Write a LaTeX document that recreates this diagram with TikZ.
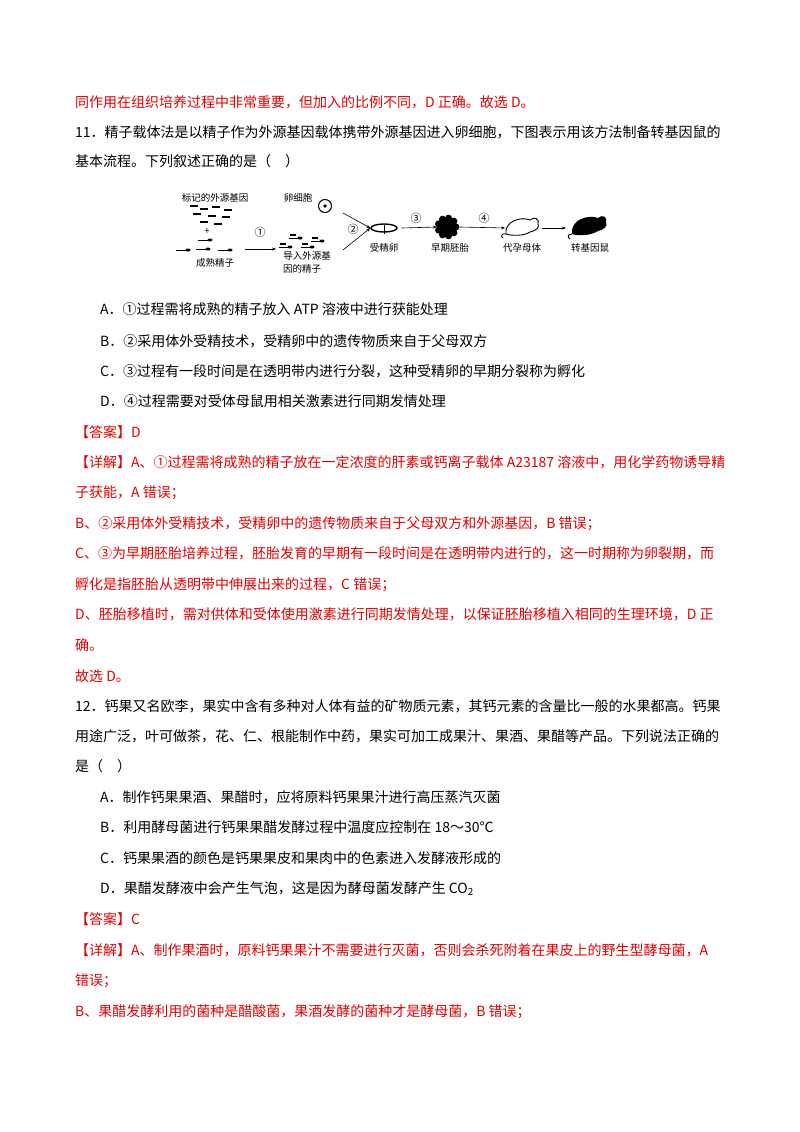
\documentclass[tikz,border=0pt]{standalone}
\usepackage{fontspec}
\usetikzlibrary{arrows.meta,shapes.geometric}
\setmainfont{Liberation Serif}
\newfontfamily\cjk{Noto Sans CJK SC}
\definecolor{ansred}{RGB}{230,0,0}
\begin{document}
\begin{tikzpicture}[x=1pt,y=-1pt,
  ln/.style={anchor=base west,inner sep=0,font=\cjk\fontsize{14}{14}\selectfont},
  rl/.style={ln,text=ansred},
  sm/.style={inner sep=0,font=\cjk\fontsize{9.5}{10}\selectfont},
  cn/.style={inner sep=0,font=\cjk\fontsize{11}{11}\selectfont},
  arr/.style={-{Stealth[length=4pt]},line width=0.6pt},
  gene/.style={line width=2pt},
  spermtail/.style={line width=0.6pt}]
\useasboundingbox[fill=white] (0,0) rectangle (800,1132);
\node[rl] (l1) at (75,107) {同作用在组织培养过程中非常重要，但加入的比例不同，D 正确。故选 D。};
\node[ln] (l2) at (75,137) {11．精子载体法是以精子作为外源基因载体携带外源基因进入卵细胞，下图表示用该方法制备转基因鼠的};
\node[ln] (l3) at (75,166) {基本流程。下列叙述正确的是（　）};
% diagram
\node[sm] (t1) at (215,198) {标记的外源基因};
\foreach \x/\y in {190/206,200/209,212/207,224/210,193/214,208/216,222/217,200/222,214/224}
  \draw[gene] (\x,\y) -- ++(8,0);
\node[sm] (plus) at (207,232) {+};
\foreach \x/\y in {188/250,208/249,230/250,210/240}{
  \fill (\x,\y) ellipse (2.5 and 1.5);
  \draw[spermtail] (\x-2,\y) -- ++(-10,0);}
\node[sm] (t2) at (215,263) {成熟精子};
\coordinate (a1s) at (245,249); \coordinate (a1e) at (276,249);
\draw[arr] (a1s) -- (a1e);
\node[cn] (c1) at (260,232) {①};
\node[sm] (t3) at (298,198) {卵细胞};
\node[draw,circle,line width=1pt,minimum size=13pt,inner sep=0] (egg) at (325,206) {};
\fill (egg.center) circle (1.8);
\foreach \x/\y in {300/238,322/241,290/247,312/247}{
  \fill (\x,\y) ellipse (2.5 and 1.5);
  \draw[spermtail] (\x-2,\y) -- ++(-9,0);
  \draw[line width=1.3pt] (\x-10,\y-3) -- ++(6,0);}
\node[sm] (t4) at (307,256) {导入外源基};
\node[sm] (t5) at (302,269) {因的精子};
\node[draw,ellipse,line width=1.4pt,minimum width=26pt,minimum height=8pt,inner sep=0] (zyg) at (384,228) {};
\draw[line width=1pt] (384,225) -- (384,234);
\draw[arr] (343,213) -- (zyg.west);
\draw[arr] (343,250) -- (zyg.west);
\node[cn] (c2) at (353,229) {②};
\node[sm] (t6) at (384,248) {受精卵};
\node[fill=black,circle,minimum size=20pt,inner sep=0] (emb) at (447,227) {};
\foreach \a in {0,40,...,320} \fill (emb.center) ++(\a:9) circle (3.5);
\draw[arr] (zyg.east) ++(4,0) -- (emb.west);
\node[cn] (c3) at (416,218) {③};
\node[sm] (t7) at (450,248) {早期胚胎};
% outline mouse
\coordinate (m1) at (520,229);
\draw[line width=0.9pt] (506,234) .. controls (504,222) and (520,216) .. (530,220)
  .. controls (534,216) and (540,219) .. (538,224) .. controls (540,227) and (536,231) .. (530,232)
  .. controls (524,236) and (512,236) .. (506,234) .. controls (502,233) and (500,236) .. (503,238);
\draw[arr] (emb.east) ++(3,0) -- (505,228);
\node[cn] (c4) at (484,218) {④};
\node[sm] (t8) at (522,248) {代孕母体};
\draw[arr] (542,228) -- (566,228);
\fill (572,234) .. controls (570,220) and (588,214) .. (598,218)
  .. controls (602,214) and (608,217) .. (606,222) .. controls (608,226) and (604,230) .. (598,231)
  .. controls (590,236) and (578,236) .. (572,234);
\draw[line width=0.9pt] (572,234) .. controls (568,234) and (567,237) .. (570,239);
\node[sm] (t9) at (590,248) {转基因鼠};
% options
\node[ln] (o1) at (100,314) {A．①过程需将成熟的精子放入 ATP 溶液中进行获能处理};
\node[ln] (o2) at (100,346) {B．②采用体外受精技术，受精卵中的遗传物质来自于父母双方};
\node[ln] (o3) at (100,376) {C．③过程有一段时间是在透明带内进行分裂，这种受精卵的早期分裂称为孵化};
\node[ln] (o4) at (100,406) {D．④过程需要对受体母鼠用相关激素进行同期发情处理};
\node[rl] (a1) at (75,437) {【答案】D};
\node[rl] (d1) at (75,467) {【详解】A、①过程需将成熟的精子放在一定浓度的肝素或钙离子载体 A23187 溶液中，用化学药物诱导精};
\node[rl] (d2) at (75,497) {子获能，A 错误；};
\node[rl] (d3) at (75,528) {B、②采用体外受精技术，受精卵中的遗传物质来自于父母双方和外源基因，B 错误；};
\node[rl] (d4) at (75,558) {C、③为早期胚胎培养过程，胚胎发育的早期有一段时间是在透明带内进行的，这一时期称为卵裂期，而};
\node[rl] (d5) at (75,589) {孵化是指胚胎从透明带中伸展出来的过程，C 错误；};
\node[rl] (d6) at (75,619) {D、胚胎移植时，需对供体和受体使用激素进行同期发情处理，以保证胚胎移植入相同的生理环境，D 正};
\node[rl] (d7) at (75,650) {确。};
\node[rl] (d8) at (75,681) {故选 D。};
\node[ln] (q1) at (75,711) {12．钙果又名欧李，果实中含有多种对人体有益的矿物质元素，其钙元素的含量比一般的水果都高。钙果};
\node[ln] (q2) at (75,741) {用途广泛，叶可做茶，花、仁、根能制作中药，果实可加工成果汁、果酒、果醋等产品。下列说法正确的};
\node[ln] (q3) at (75,771) {是（　）};
\node[ln] (p1) at (100,802) {A．制作钙果果酒、果醋时，应将原料钙果果汁进行高压蒸汽灭菌};
\node[ln] (p2) at (100,832) {B．利用酵母菌进行钙果果醋发酵过程中温度应控制在 18～30℃};
\node[ln] (p3) at (100,863) {C．钙果果酒的颜色是钙果果皮和果肉中的色素进入发酵液形成的};
\node[ln] (p4) at (100,893) {D．果醋发酵液中会产生气泡，这是因为酵母菌发酵产生 CO\textsubscript{2}};
\node[rl] (a2) at (75,924) {【答案】C};
\node[rl] (e1) at (75,955) {【详解】A、制作果酒时，原料钙果果汁不需要进行灭菌，否则会杀死附着在果皮上的野生型酵母菌，A};
\node[rl] (e2) at (75,985) {错误；};
\node[rl] (e3) at (75,1016) {B、果醋发酵利用的菌种是醋酸菌，果酒发酵的菌种才是酵母菌，B 错误；};
\end{tikzpicture}
\end{document}
